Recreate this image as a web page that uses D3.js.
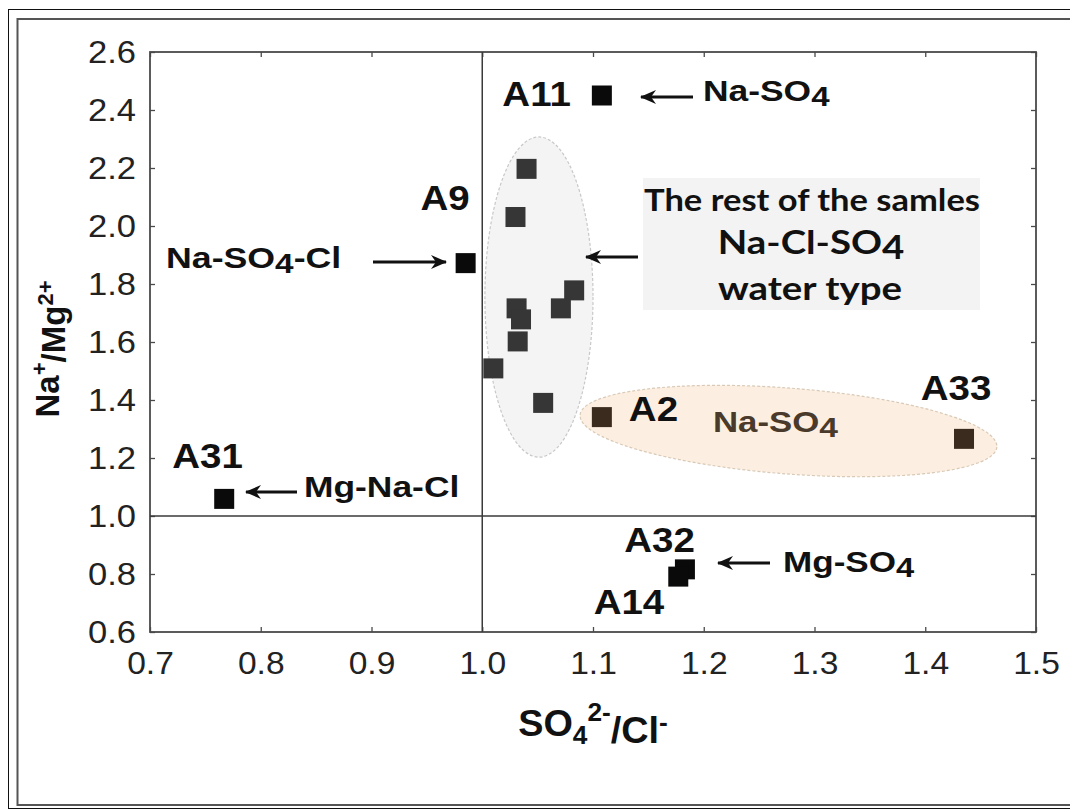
<!DOCTYPE html>
<html>
<head>
<meta charset="utf-8">
<script src="https://cdn.jsdelivr.net/npm/d3@7"></script>
<style>
  html, body { margin: 0; padding: 0; background: #fff; }
  svg { display: block; }
</style>
</head>
<body>
<svg id="chart" width="1070" height="811"></svg>
<script>
// ---------------- data ----------------
const xTicks = [0.7, 0.8, 0.9, 1.0, 1.1, 1.2, 1.3, 1.4, 1.5];
const yTicks = [0.6, 0.8, 1.0, 1.2, 1.4, 1.6, 1.8, 2.0, 2.2, 2.4, 2.6];

const labeledNames = ["A11", "A9", "A31", "A2", "A33", "A32", "A14"];
const labeledX = [1.108, 0.985, 0.767, 1.108, 1.435, 1.183, 1.177];
const labeledY = [2.450, 1.872, 1.059, 1.341, 1.266, 0.816, 0.791];

const clusterX = [1.040, 1.030, 1.083, 1.071, 1.031, 1.035, 1.032, 1.010, 1.055];
const clusterY = [2.197, 2.031, 1.778, 1.716, 1.716, 1.678, 1.602, 1.509, 1.390];

const waterTypes = ["Na-SO4", "Na-SO4-Cl", "Mg-Na-Cl", "Na-SO4", "Mg-SO4"];

// ---------------- styles / layout ----------------
const labelColor = ["#0a0a0a", "#0a0a0a", "#0a0a0a", "#3a2b1e", "#3a2b1e", "#0a0a0a", "#0a0a0a"];
const labelAnchor = ["end", "end", "start", "start", "middle", "end", "end"];
const labelDx = [-31, 4, -52, 27, -8, 10, -14];
const labelDy = [10.5, -53, -31, 3.6, -39, -17, 37.5];

const svg = d3.select("#chart");
const x = d3.scaleLinear().domain([0.7, 1.5]).range([150, 1036]);
const y = d3.scaleLinear().domain([0.6, 2.6]).range([632, 52]);

const SANS = "'Liberation Sans', Arial, Helvetica, sans-serif";
const CAL = "Lato, 'Open Sans', sans-serif";

// outer frames
svg.append("rect").attr("x", 8.5).attr("y", 9.5).attr("width", 1100).attr("height", 799)
  .attr("fill", "none").attr("stroke", "#111").attr("stroke-width", 1);
svg.append("rect").attr("x", 17.5).attr("y", 19).attr("width", 1100).attr("height", 786)
  .attr("fill", "none").attr("stroke", "#555").attr("stroke-width", 2);

// rich text helper
function richText(g, px, py, parts, o) {
  const t = g.append("text")
    .attr("transform", `translate(${px},${py}) scale(${o.sx || 1},1)` + (o.rot ? ` rotate(${o.rot})` : ""))
    .attr("font-family", o.family || SANS)
    .attr("font-size", o.size)
    .attr("font-weight", o.weight || "normal")
    .attr("fill", o.color || "#111")
    .attr("text-anchor", o.anchor || "start");
  parts.forEach(p => {
    const s = t.append("tspan").text(p.t);
    if (p.dy) s.attr("dy", p.dy);
    if (p.dx) s.attr("dx", p.dx);
    if (p.size) s.attr("font-size", p.size);
  });
  return t;
}
function subParts(str, sub) {
  const out = [];
  const i = str.indexOf("SO4");
  if (i < 0) return [{ t: str }];
  out.push({ t: str.slice(0, i) + "SO" });
  out.push({ t: "4", dy: sub.dy, size: sub.size });
  const rest = str.slice(i + 3);
  if (rest.length) out.push({ t: rest, dy: -sub.dy });
  return out;
}

// ellipses (annotation regions)
const grayEll = { cx: 1.0512, cy: 1.755, rx: 0.0488, ry: 0.552, rot: 0 };
const orangeEll = { cx: 1.2765, cy: 1.293, rx: 0.1887, ry: 0.148, rot: 4.4 };
function drawEllipse(e, fill, stroke) {
  svg.append("ellipse")
    .attr("cx", 0).attr("cy", 0)
    .attr("rx", x(0.7 + e.rx) - x(0.7))
    .attr("ry", y(0.6) - y(0.6 + e.ry))
    .attr("transform", `translate(${x(e.cx)},${y(e.cy)}) rotate(${e.rot})`)
    .attr("fill", fill).attr("stroke", stroke)
    .attr("stroke-width", 1.2).attr("stroke-dasharray", "3,2");
}
drawEllipse(grayEll, "#f5f4f4", "#c8c8c8");
drawEllipse(orangeEll, "#fcefe1", "#d9c9b6");

// text box
const box = { x0: 1.1451, x1: 1.4494, y0: 2.1655, y1: 1.7103 };
svg.append("rect")
  .attr("x", x(box.x0)).attr("y", y(box.y0))
  .attr("width", x(box.x1) - x(box.x0)).attr("height", y(box.y1) - y(box.y0))
  .attr("fill", "#f3f3f3");

// axes
const axisColor = "#4a4a4a";
const gx = svg.append("g").attr("transform", `translate(0,${y(0.6)})`)
  .call(d3.axisBottom(x).tickValues(xTicks).tickFormat(d3.format(".1f"))
    .tickSizeInner(-5).tickSizeOuter(0).tickPadding(19));
const gxTop = svg.append("g").attr("transform", `translate(0,${y(2.6)})`)
  .call(d3.axisTop(x).tickValues(xTicks).tickFormat("").tickSizeInner(-5).tickSizeOuter(0));
const gy = svg.append("g").attr("transform", `translate(${x(0.7)},0)`)
  .call(d3.axisLeft(y).tickValues(yTicks).tickFormat(d3.format(".1f"))
    .tickSizeInner(-5).tickSizeOuter(0).tickPadding(13));
const gyR = svg.append("g").attr("transform", `translate(${x(1.5)},0)`)
  .call(d3.axisRight(y).tickValues(yTicks).tickFormat("").tickSizeInner(-5).tickSizeOuter(0));
[gx, gxTop, gy, gyR].forEach(g => {
  g.select(".domain").remove();
  g.selectAll(".tick line").attr("stroke", axisColor).attr("stroke-width", 1.3);
});
[gx, gy].forEach(g => {
  g.selectAll(".tick text")
    .attr("font-family", SANS).attr("font-size", 32).attr("fill", "#222");
});
gx.selectAll(".tick text").attr("transform", "scale(1.05,1)");
gy.selectAll(".tick text").attr("transform", "scale(1.08,1)");

// plot frame
svg.append("rect")
  .attr("x", x(0.7)).attr("y", y(2.6))
  .attr("width", x(1.5) - x(0.7)).attr("height", y(0.6) - y(2.6))
  .attr("fill", "none").attr("stroke", axisColor).attr("stroke-width", 1.8);

// reference lines at 1.0
svg.append("line").attr("x1", x(1.0)).attr("x2", x(1.0)).attr("y1", y(2.6)).attr("y2", y(0.6))
  .attr("stroke", "#3a3a3a").attr("stroke-width", 1.5);
svg.append("line").attr("x1", x(0.7)).attr("x2", x(1.5)).attr("y1", y(1.0)).attr("y2", y(1.0))
  .attr("stroke", "#3a3a3a").attr("stroke-width", 1.5);

// axis titles
richText(svg, 593, 736, [
  { t: "SO" }, { t: "4", dy: "0.3em", size: 25 }, { t: "2-", dy: "-0.9em", size: 25 },
  { t: "/Cl", dy: "0.6em" }, { t: "-", dy: "-0.45em", size: 25 }
], { size: 36, weight: "bold", anchor: "middle", sx: 1.05, color: "#111" });

richText(svg, 59, 349, [
  { t: "Na" }, { t: "+", dy: "-0.55em", size: 22 }, { t: "/Mg", dy: "0.55em" },
  { t: "2+", dy: "-0.55em", size: 22 }
], { size: 33, weight: "bold", anchor: "middle", rot: -90, color: "#111" });

// arrow marker
const defs = svg.append("defs");
defs.append("marker").attr("id", "ah")
  .attr("viewBox", "-16 -8 17 16").attr("refX", 0).attr("refY", 0)
  .attr("markerWidth", 17).attr("markerHeight", 16)
  .attr("markerUnits", "userSpaceOnUse").attr("orient", "auto")
  .append("path").attr("d", "M1,0 L-15,-7 L-10,0 L-15,7 Z").attr("fill", "#111");
function arrow(x1, y1, x2, y2) {
  svg.append("line").attr("x1", x1).attr("y1", y1).attr("x2", x2).attr("y2", y2)
    .attr("stroke", "#111").attr("stroke-width", 3).attr("marker-end", "url(#ah)");
}
arrow(693, 97, 641, 97);   // A11
arrow(373, 262, 446, 262); // A9
arrow(638, 257, 586, 257); // cluster
arrow(297, 492, 246, 492); // A31
arrow(770, 563, 718, 563); // A32/A14

// water type labels
const sub = { dy: 5, size: 28 };
richText(svg, 703, 101, subParts(waterTypes[0], sub), { size: 30, weight: "bold", sx: 1.18, color: "#111" });
richText(svg, 166, 268, subParts(waterTypes[1], sub), { size: 30, weight: "bold", sx: 1.19, color: "#111" });
richText(svg, 304, 497, subParts(waterTypes[2], sub), { size: 30, weight: "bold", sx: 1.18, color: "#111" });
richText(svg, 713, 432, subParts(waterTypes[3], sub), { size: 29, weight: "bold", sx: 1.2, color: "#4a3a2b" });
richText(svg, 783, 572, subParts(waterTypes[4], sub), { size: 30, weight: "bold", sx: 1.17, color: "#111" });

// text box content
richText(svg, 812, 211, [{ t: "The rest of the samles" }], { size: 30, weight: "bold", family: CAL, anchor: "middle", sx: 1.15, color: "#111" });
richText(svg, 811, 254, [{ t: "Na-Cl-SO" }, { t: "4", dy: 5 }], { size: 32, weight: "bold", family: CAL, anchor: "middle", sx: 1.2, color: "#111" });
richText(svg, 810, 300, [{ t: "water type" }], { size: 32, weight: "bold", family: CAL, anchor: "middle", sx: 1.2, color: "#111" });

// points
const S = 20;
const cluster = clusterX.map((v, i) => ({ x: v, y: clusterY[i] }));
svg.append("g").selectAll("rect").data(cluster).join("rect")
  .attr("x", d => x(d.x) - S / 2).attr("y", d => y(d.y) - S / 2)
  .attr("width", S).attr("height", S).attr("fill", "#363636");

const labeled = labeledNames.map((n, i) => ({ n, x: labeledX[i], y: labeledY[i], c: labelColor[i], a: labelAnchor[i], dx: labelDx[i], dy: labelDy[i] }));
svg.append("g").selectAll("rect").data(labeled).join("rect")
  .attr("x", d => x(d.x) - S / 2).attr("y", d => y(d.y) - S / 2)
  .attr("width", S).attr("height", S).attr("fill", d => d.c);

labeled.forEach(d => {
  richText(svg, x(d.x) + d.dx, y(d.y) + d.dy, [{ t: d.n }],
    { size: 35, weight: "bold", anchor: d.a, sx: 1.1, color: "#111" });
});
</script>
</body>
</html>
